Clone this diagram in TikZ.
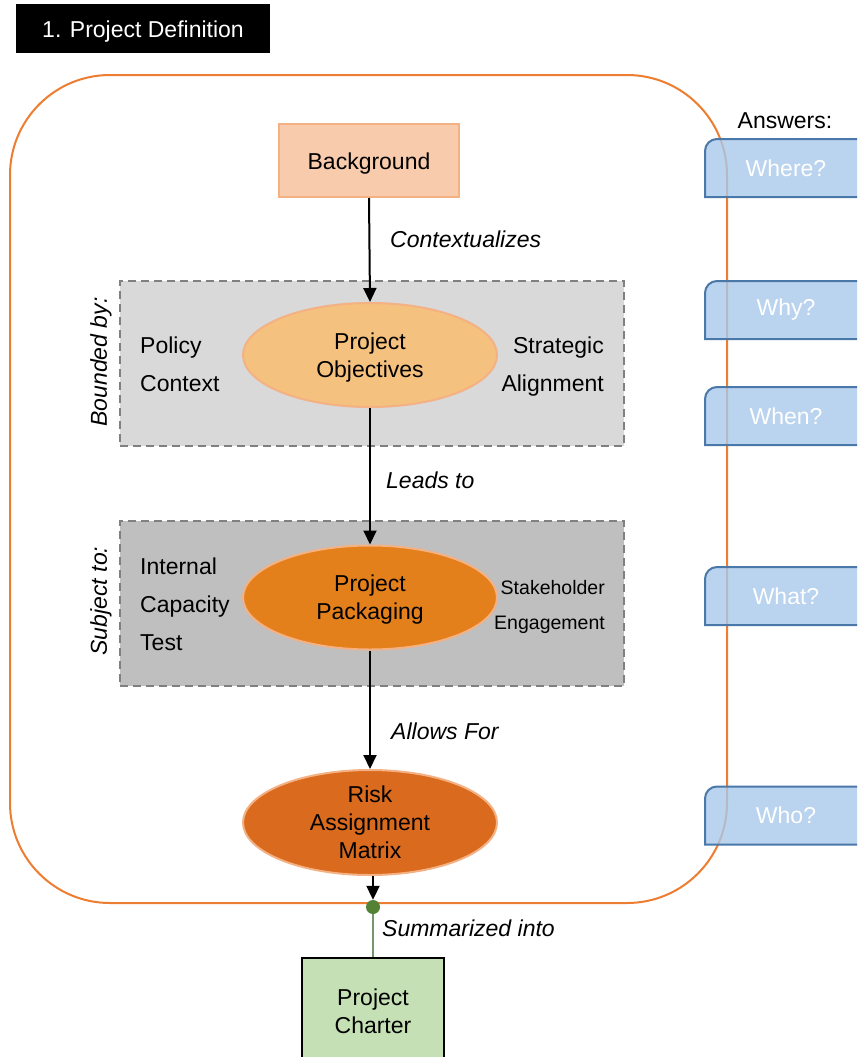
\documentclass[tikz,border=0pt]{standalone}
\usepackage{fontspec}
\setmainfont{Liberation Sans}
\usetikzlibrary{shapes.geometric,arrows.meta}
\definecolor{frameor}{HTML}{ED7D31}
\definecolor{bgfill}{HTML}{F8CBAD}
\definecolor{bgline}{HTML}{F4B183}
\definecolor{pofill}{HTML}{F5C17F}
\definecolor{ppfill}{HTML}{E3801C}
\definecolor{rkfill}{HTML}{D96A1E}
\definecolor{bandA}{HTML}{D9D9D9}
\definecolor{bandB}{HTML}{BFBFBF}
\definecolor{bandline}{HTML}{808080}
\definecolor{tabfill}{HTML}{A9C9EA}
\definecolor{tabline}{HTML}{4A78A8}
\definecolor{chfill}{HTML}{C5E0B4}
\definecolor{dotgreen}{HTML}{548235}
\definecolor{glink}{HTML}{76956A}
\newcommand{\lowerby}[2]{\raisebox{-#1}[\height][\depth]{#2}}
\newcommand{\twolines}[2]{\begin{tabular}{@{}c@{}}#1\\#2\end{tabular}}
\tikzset{
  txt/.style={font=\fontsize{23}{28}\selectfont, inner sep=0pt},
  itxt/.style={font=\fontsize{23}{28}\selectfont\itshape, inner sep=0pt},
  bandbox/.style={draw=bandline, line width=2pt, dash pattern=on 8pt off 5pt, minimum width=504pt, minimum height=165pt, inner sep=0pt},
  oval/.style={ellipse, draw=bgline, line width=2pt, minimum width=254pt, minimum height=104pt, inner sep=0pt, align=center, font=\fontsize{23}{28}\selectfont},
  tabshape/.style={draw=tabline, line width=2pt, fill=tabfill, fill opacity=0.8},
  tabtxt/.style={font=\fontsize{23}{28}\selectfont, text=white, inner sep=0pt},
  flow/.style={line width=2pt, -{Triangle[length=14pt,width=13pt]}},
}
\begin{document}
\begin{tikzpicture}[x=1pt,y=-1pt]
\useasboundingbox (0,0) rectangle (857,1057);
\clip (0,0) rectangle (857,1057);
\fill[white] (0,0) rectangle (857,1057);

% title
\node[fill=black, text=white, minimum width=254pt, minimum height=49pt, inner sep=0pt, font=\fontsize{23}{28}\selectfont] (title) at (143,28.5) {\lowerby{3pt}{1. Project Definition}};

% frame
\node[draw=frameor, line width=2pt, rounded corners=100pt, minimum width=717pt, minimum height=828pt, inner sep=0pt] (frame) at (368.5,489) {};

% bands
\node[bandbox, fill=bandA] (band1) at (372,363.5) {};
\node[bandbox, fill=bandB] (band2) at (372,603.5) {};

% background box
\node[draw=bgline, line width=2pt, fill=bgfill, minimum width=180pt, minimum height=73pt, inner sep=0pt, font=\fontsize{23}{28}\selectfont] (bg) at (369,160.5) {\lowerby{3pt}{Background}};

% ellipses
\node[oval, fill=pofill] (po) at (370,355) {\lowerby{3pt}{\twolines{Project}{Objectives}}};
\node[oval, fill=ppfill] (pp) at (370,597.5) {\lowerby{2pt}{\twolines{Project}{Packaging}}};
\node[oval, fill=rkfill, minimum height=105pt] (rk) at (370,822.5) {Risk\\Assignment\\Matrix};

% side texts
\node[txt, anchor=base west] (policy) at (140,353) {Policy};
\node[txt, anchor=base west] (context) at (140,391) {Context};
\node[txt, anchor=base east] (strat) at (604,353) {Strategic};
\node[txt, anchor=base east] (align) at (604,391) {Alignment};
\node[txt, anchor=base west] (internal) at (140,574) {Internal};
\node[txt, anchor=base west] (capacity) at (140,612) {Capacity};
\node[txt, anchor=base west] (test) at (140,650) {Test};
\node[txt, font=\fontsize{19.5}{24}\selectfont, anchor=base east] (stake) at (605,594) {Stakeholder};
\node[txt, font=\fontsize{19.5}{24}\selectfont, anchor=base east] (engage) at (605,629) {Engagement};

% rotated labels
\node[itxt, rotate=90] (bounded) at (101,362) {Bounded by:};
\node[itxt, rotate=90] (subject) at (101,601) {Subject to:};

% charter and dot
\node[draw=black, line width=2pt, fill=chfill, minimum width=142pt, minimum height=106pt, inner sep=0pt, align=center, font=\fontsize{23}{28}\selectfont] (charter) at (373,1011) {Project\\Charter};
\node[circle, fill=dotgreen, minimum size=14pt, inner sep=0pt] (dot) at (373,907) {};

% connectors
\draw[flow] (bg.south) -- (po.north);
\draw[flow] (po.south) -- (pp.north);
\draw[flow] (pp.south) -- (rk.north);
\draw[flow] (rk.south -| dot) -- (dot.north);
\draw[glink, line width=1.5pt] (dot.south) -- (charter.north);

% connector labels
\node[itxt, anchor=west] (l1) at (390,239) {Contextualizes};
\node[itxt, anchor=west] (l2) at (386,480) {Leads to};
\node[itxt, anchor=west] (l3) at (391,731) {Allows For};
\node[itxt, anchor=west] (l4) at (382,928) {Summarized into};

% answers tabs
\node[txt] (answers) at (785,121) {Answers:};
\foreach \yc/\lab/\nm in {168/Where?/tw, 310/Why?/ty, 416/When?/tn, 596/What?/tt, 815.5/Who?/to}{
  \draw[tabshape] (705,\yc+29) [rounded corners=12pt] -- (705,\yc-29) [sharp corners] -- (880,\yc-29) -- (880,\yc+29) -- cycle;
  \node[tabtxt] (\nm) at (786,\yc) {\lab};
}
\end{tikzpicture}
\end{document}
